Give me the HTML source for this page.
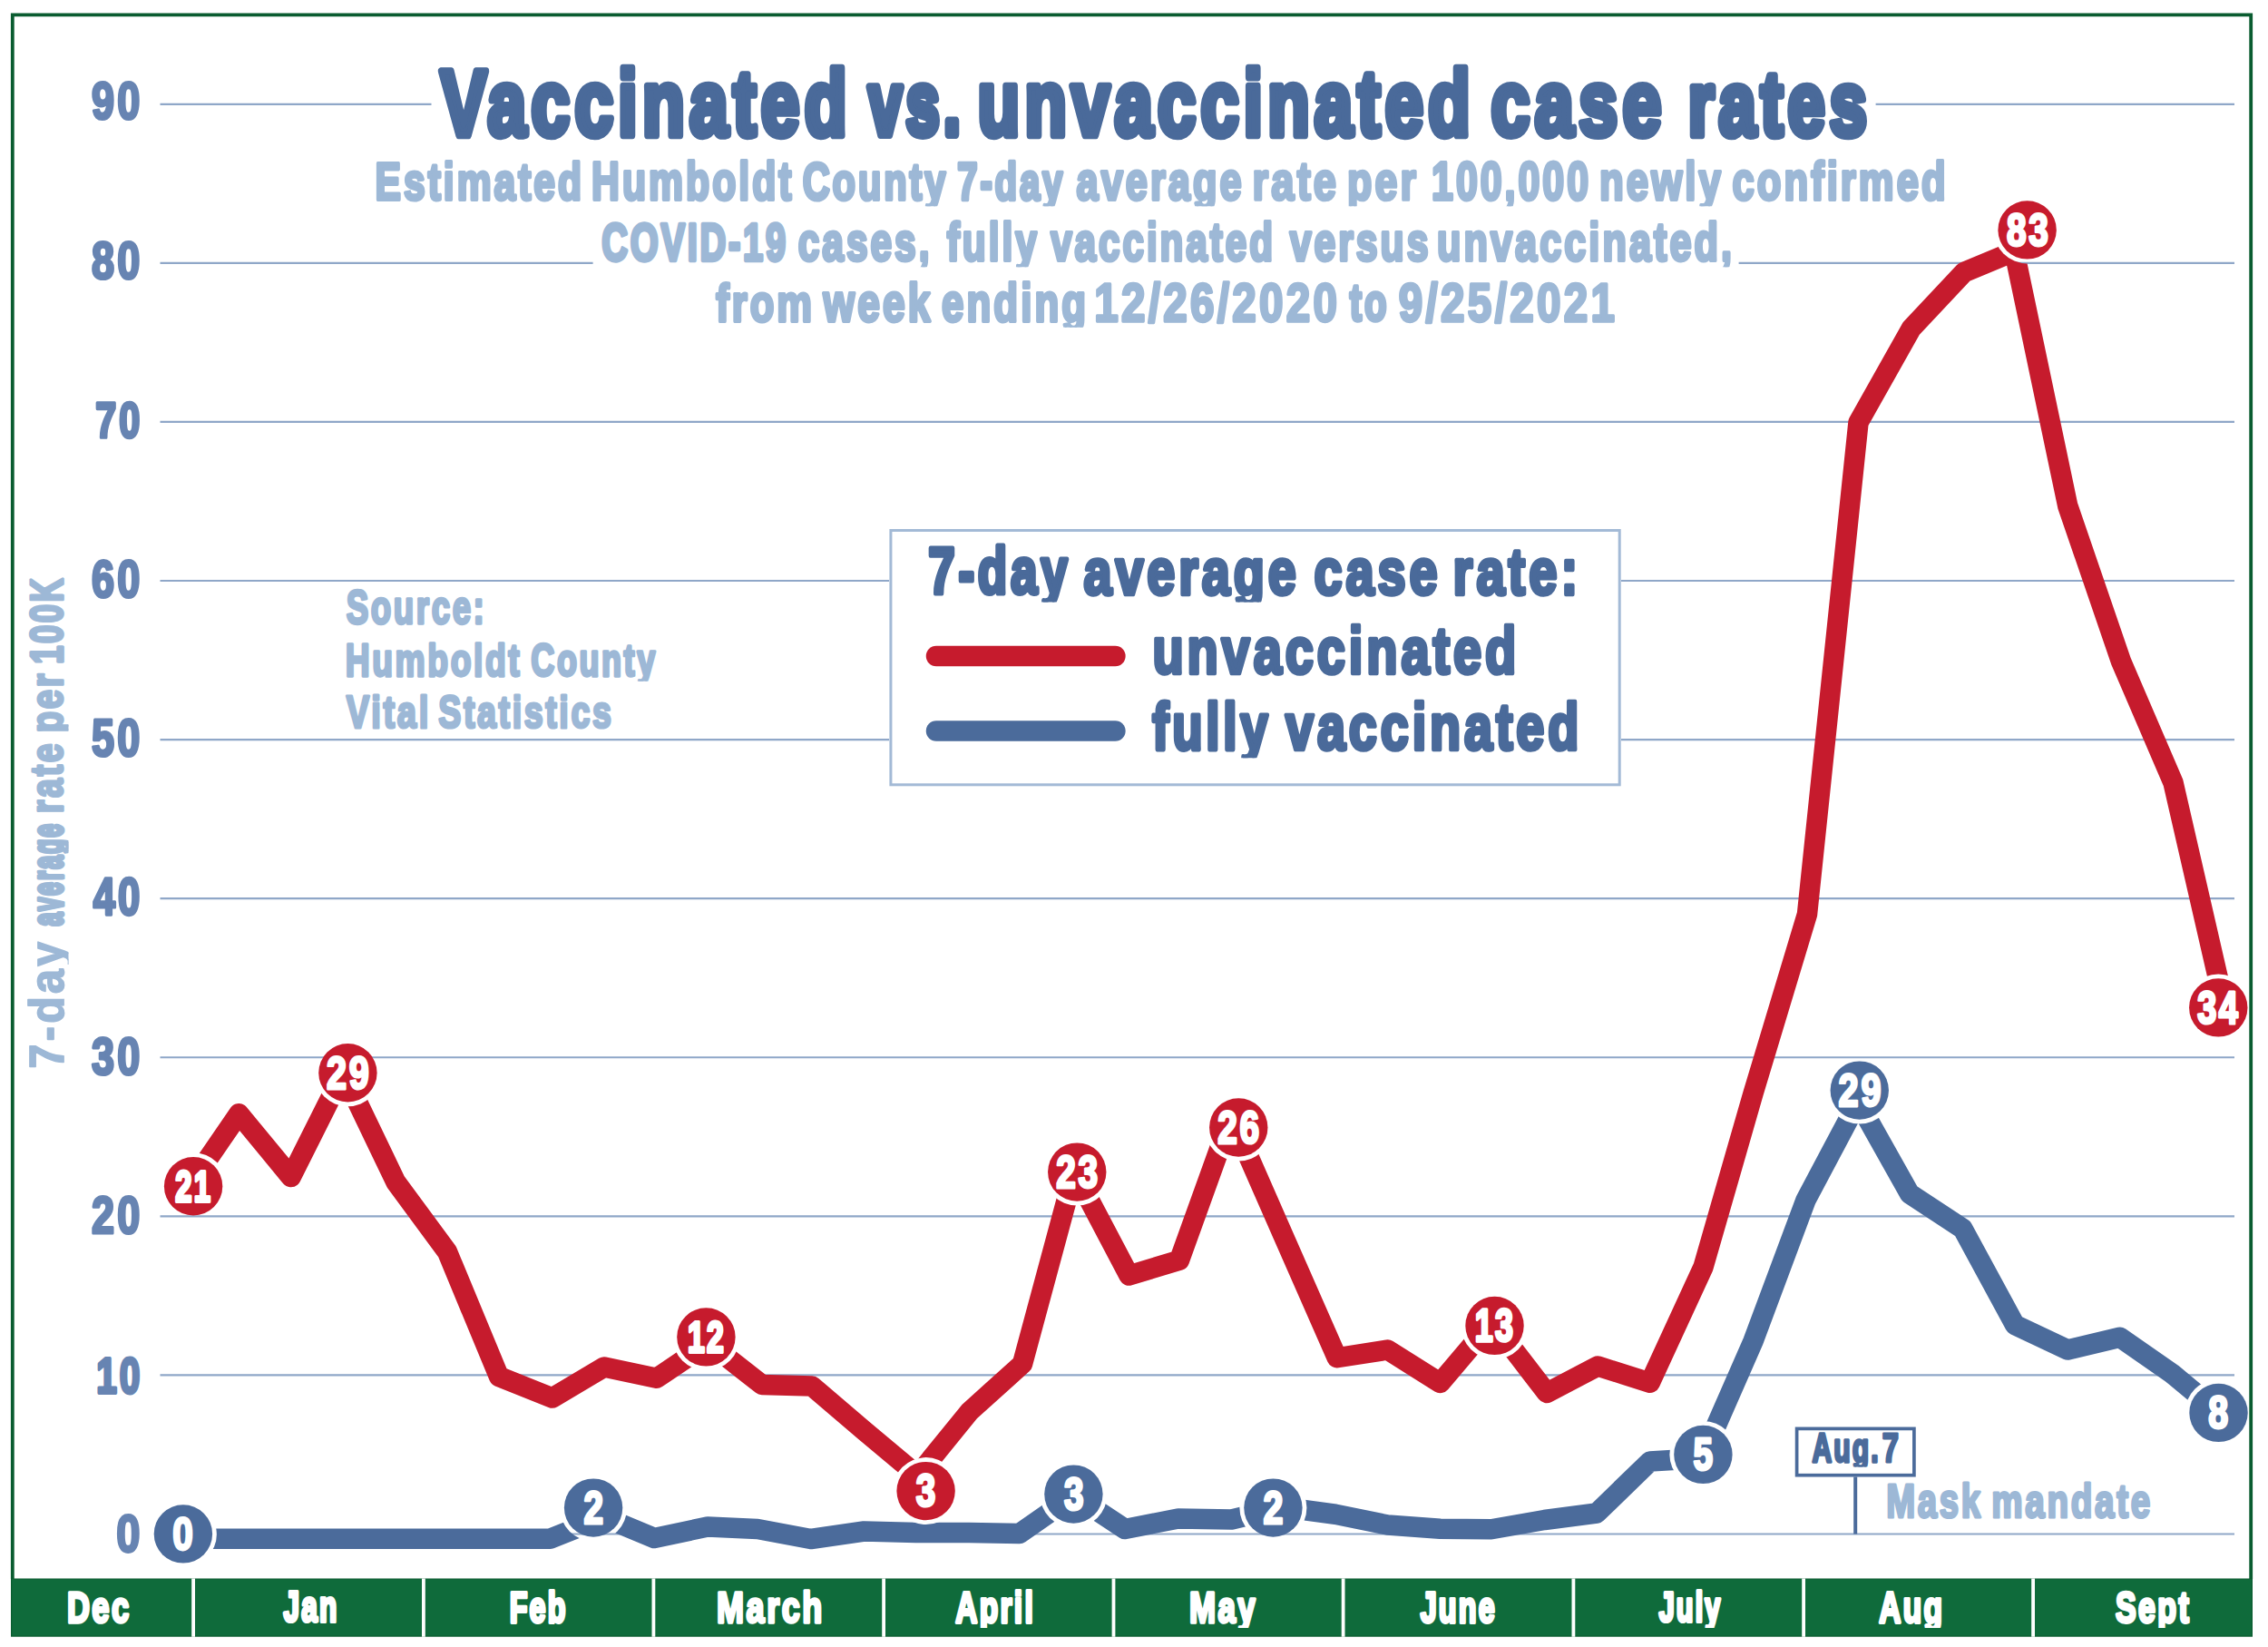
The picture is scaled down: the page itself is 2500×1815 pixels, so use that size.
<!DOCTYPE html>
<html><head><meta charset="utf-8"><title>Vaccinated vs. unvaccinated case rates</title><style>
html,body{margin:0;padding:0;background:#fff;overflow:hidden}
svg{display:block}
text{font-family:"Liberation Sans",sans-serif;font-weight:bold}
</style></head><body>
<svg width="2500" height="1815" viewBox="0 0 2500 1815">
<rect x="0" y="0" width="2500" height="1815" fill="#fff"/>
<path d="M176.5 1690.5H2463 M176.5 1515.42H2463 M176.5 1340.34H2463 M176.5 1165.26H2463 M176.5 990.18H2463 M176.5 815.0999999999999H980 M1787 815.0999999999999H2463 M176.5 640.02H980 M1787 640.02H2463 M176.5 464.9399999999998H2463 M176.5 289.8599999999999H653.6 M1916.6 289.8599999999999H2463 M176.5 114.77999999999997H475.5 M2067.6 114.77999999999997H2463" stroke="#8fa7c8" stroke-width="2.2" fill="none"/>
<text x="128.15" y="1710.45" font-size="57.15" fill="#6784b2" stroke="#6784b2" stroke-width="2.91" stroke-linejoin="round" textLength="29.48" lengthAdjust="spacingAndGlyphs" letter-spacing="4.00">0</text>
<text x="106.33" y="1534.54" font-size="55.84" fill="#6784b2" stroke="#6784b2" stroke-width="3.82" stroke-linejoin="round" textLength="50.78" lengthAdjust="spacingAndGlyphs" letter-spacing="3.91">10</text>
<text x="101.03" y="1359.40" font-size="56.74" fill="#6784b2" stroke="#6784b2" stroke-width="3.19" stroke-linejoin="round" textLength="56.40" lengthAdjust="spacingAndGlyphs" letter-spacing="3.97">20</text>
<text x="101.03" y="1183.96" font-size="56.74" fill="#6784b2" stroke="#6784b2" stroke-width="3.19" stroke-linejoin="round" textLength="56.40" lengthAdjust="spacingAndGlyphs" letter-spacing="3.97">30</text>
<text x="102.66" y="1008.40" font-size="56.46" fill="#6784b2" stroke="#6784b2" stroke-width="3.39" stroke-linejoin="round" textLength="54.66" lengthAdjust="spacingAndGlyphs" letter-spacing="3.95">40</text>
<text x="101.03" y="833.05" font-size="56.74" fill="#6784b2" stroke="#6784b2" stroke-width="3.19" stroke-linejoin="round" textLength="56.40" lengthAdjust="spacingAndGlyphs" letter-spacing="3.97">50</text>
<text x="101.03" y="657.61" font-size="56.74" fill="#6784b2" stroke="#6784b2" stroke-width="3.19" stroke-linejoin="round" textLength="56.40" lengthAdjust="spacingAndGlyphs" letter-spacing="3.97">60</text>
<text x="105.29" y="481.90" font-size="56.01" fill="#6784b2" stroke="#6784b2" stroke-width="3.7" stroke-linejoin="round" textLength="51.86" lengthAdjust="spacingAndGlyphs" letter-spacing="3.92">70</text>
<text x="101.03" y="306.71" font-size="56.74" fill="#6784b2" stroke="#6784b2" stroke-width="3.19" stroke-linejoin="round" textLength="56.40" lengthAdjust="spacingAndGlyphs" letter-spacing="3.97">80</text>
<text x="101.03" y="131.26" font-size="56.74" fill="#6784b2" stroke="#6784b2" stroke-width="3.19" stroke-linejoin="round" textLength="56.40" lengthAdjust="spacingAndGlyphs" letter-spacing="3.97">90</text>
<text x="485.45" y="148.91" font-size="101.23" fill="#4a6a9a" stroke="#4a6a9a" stroke-width="8.39" stroke-linejoin="round" textLength="453.43" lengthAdjust="spacingAndGlyphs" letter-spacing="7.09">Vaccinated</text>
<text x="957.47" y="148.22" font-size="98.89" fill="#4a6a9a" stroke="#4a6a9a" stroke-width="9.75" stroke-linejoin="round" textLength="105.74" lengthAdjust="spacingAndGlyphs" letter-spacing="6.92">vs.</text>
<text x="1077.84" y="148.91" font-size="101.22" fill="#4a6a9a" stroke="#4a6a9a" stroke-width="8.39" stroke-linejoin="round" textLength="548.04" lengthAdjust="spacingAndGlyphs" letter-spacing="7.09">unvaccinated</text>
<text x="1643.49" y="149.00" font-size="101.57" fill="#4a6a9a" stroke="#4a6a9a" stroke-width="8.19" stroke-linejoin="round" textLength="193.39" lengthAdjust="spacingAndGlyphs" letter-spacing="7.11">case</text>
<text x="1860.63" y="148.77" font-size="100.76" fill="#4a6a9a" stroke="#4a6a9a" stroke-width="8.66" stroke-linejoin="round" textLength="202.47" lengthAdjust="spacingAndGlyphs" letter-spacing="7.05">rates</text>
<text x="413.57" y="219.98" font-size="58.26" fill="#9db8d6" stroke="#9db8d6" stroke-width="4.04" stroke-linejoin="round" textLength="230.47" lengthAdjust="spacingAndGlyphs" letter-spacing="4.08">Estimated</text>
<text x="652.05" y="220.00" font-size="58.30" fill="#9db8d6" stroke="#9db8d6" stroke-width="4.01" stroke-linejoin="round" textLength="223.43" lengthAdjust="spacingAndGlyphs" letter-spacing="4.08">Humboldt</text>
<clipPath id="c17"><rect x="-5000" y="-5000" width="10000" height="5227.23"/></clipPath>
<text x="884.70" y="219.91" font-size="58.02" fill="#9db8d6" stroke="#9db8d6" stroke-width="4.18" stroke-linejoin="round" textLength="160.64" lengthAdjust="spacingAndGlyphs" letter-spacing="4.06" clip-path="url(#c17)">County</text>
<clipPath id="c18"><rect x="-5000" y="-5000" width="10000" height="5227.23"/></clipPath>
<text x="1055.30" y="219.81" font-size="57.67" fill="#9db8d6" stroke="#9db8d6" stroke-width="4.38" stroke-linejoin="round" textLength="118.96" lengthAdjust="spacingAndGlyphs" letter-spacing="4.04" clip-path="url(#c18)">7-day</text>
<clipPath id="c19"><rect x="-5000" y="-5000" width="10000" height="5227.23"/></clipPath>
<text x="1186.58" y="220.03" font-size="58.43" fill="#9db8d6" stroke="#9db8d6" stroke-width="3.94" stroke-linejoin="round" textLength="184.93" lengthAdjust="spacingAndGlyphs" letter-spacing="4.09" clip-path="url(#c19)">average</text>
<text x="1380.53" y="220.17" font-size="58.90" fill="#9db8d6" stroke="#9db8d6" stroke-width="3.66" stroke-linejoin="round" textLength="95.68" lengthAdjust="spacingAndGlyphs" letter-spacing="4.12">rate</text>
<clipPath id="c21"><rect x="-5000" y="-5000" width="10000" height="5227.23"/></clipPath>
<text x="1485.03" y="220.13" font-size="58.77" fill="#9db8d6" stroke="#9db8d6" stroke-width="3.74" stroke-linejoin="round" textLength="78.97" lengthAdjust="spacingAndGlyphs" letter-spacing="4.11" clip-path="url(#c21)">per</text>
<clipPath id="c22"><rect x="-5000" y="-5000" width="10000" height="5227.23"/></clipPath>
<text x="1578.10" y="220.00" font-size="58.32" fill="#9db8d6" stroke="#9db8d6" stroke-width="4.0" stroke-linejoin="round" textLength="175.90" lengthAdjust="spacingAndGlyphs" letter-spacing="4.08" clip-path="url(#c22)">100,000</text>
<clipPath id="c23"><rect x="-5000" y="-5000" width="10000" height="5227.23"/></clipPath>
<text x="1763.00" y="220.06" font-size="58.55" fill="#9db8d6" stroke="#9db8d6" stroke-width="3.87" stroke-linejoin="round" textLength="136.99" lengthAdjust="spacingAndGlyphs" letter-spacing="4.10" clip-path="url(#c23)">newly</text>
<text x="1909.55" y="220.05" font-size="58.50" fill="#9db8d6" stroke="#9db8d6" stroke-width="3.9" stroke-linejoin="round" textLength="238.05" lengthAdjust="spacingAndGlyphs" letter-spacing="4.09">confirmed</text>
<text x="663.31" y="286.78" font-size="57.74" fill="#9db8d6" stroke="#9db8d6" stroke-width="4.44" stroke-linejoin="round" textLength="205.46" lengthAdjust="spacingAndGlyphs" letter-spacing="4.04">COVID-19</text>
<clipPath id="c26"><rect x="-5000" y="-5000" width="10000" height="5294.28"/></clipPath>
<text x="879.67" y="286.98" font-size="58.41" fill="#9db8d6" stroke="#9db8d6" stroke-width="4.05" stroke-linejoin="round" textLength="147.87" lengthAdjust="spacingAndGlyphs" letter-spacing="4.09" clip-path="url(#c26)">cases,</text>
<clipPath id="c27"><rect x="-5000" y="-5000" width="10000" height="5294.28"/></clipPath>
<text x="1043.73" y="286.98" font-size="58.41" fill="#9db8d6" stroke="#9db8d6" stroke-width="4.05" stroke-linejoin="round" textLength="102.18" lengthAdjust="spacingAndGlyphs" letter-spacing="4.09" clip-path="url(#c27)">fully</text>
<text x="1158.16" y="286.95" font-size="58.35" fill="#9db8d6" stroke="#9db8d6" stroke-width="4.09" stroke-linejoin="round" textLength="247.82" lengthAdjust="spacingAndGlyphs" letter-spacing="4.08">vaccinated</text>
<text x="1421.69" y="286.99" font-size="58.47" fill="#9db8d6" stroke="#9db8d6" stroke-width="4.02" stroke-linejoin="round" textLength="155.79" lengthAdjust="spacingAndGlyphs" letter-spacing="4.09">versus</text>
<clipPath id="c30"><rect x="-5000" y="-5000" width="10000" height="5294.28"/></clipPath>
<text x="1584.03" y="287.03" font-size="58.60" fill="#9db8d6" stroke="#9db8d6" stroke-width="3.94" stroke-linejoin="round" textLength="328.04" lengthAdjust="spacingAndGlyphs" letter-spacing="4.10" clip-path="url(#c30)">unvaccinated,</text>
<text x="789.19" y="353.55" font-size="58.27" fill="#9db8d6" stroke="#9db8d6" stroke-width="3.9" stroke-linejoin="round" textLength="108.94" lengthAdjust="spacingAndGlyphs" letter-spacing="4.08">from</text>
<text x="907.57" y="353.61" font-size="58.47" fill="#9db8d6" stroke="#9db8d6" stroke-width="3.79" stroke-linejoin="round" textLength="120.97" lengthAdjust="spacingAndGlyphs" letter-spacing="4.09">week</text>
<clipPath id="c33"><rect x="-5000" y="-5000" width="10000" height="5360.67"/></clipPath>
<text x="1038.07" y="353.57" font-size="58.34" fill="#9db8d6" stroke="#9db8d6" stroke-width="3.86" stroke-linejoin="round" textLength="162.04" lengthAdjust="spacingAndGlyphs" letter-spacing="4.08" clip-path="url(#c33)">ending</text>
<text x="1206.24" y="353.82" font-size="59.23" fill="#9db8d6" stroke="#9db8d6" stroke-width="3.35" stroke-linejoin="round" textLength="271.10" lengthAdjust="spacingAndGlyphs" letter-spacing="4.15">12/26/2020</text>
<text x="1487.79" y="353.31" font-size="57.45" fill="#9db8d6" stroke="#9db8d6" stroke-width="4.38" stroke-linejoin="round" textLength="43.48" lengthAdjust="spacingAndGlyphs" letter-spacing="4.02">to</text>
<text x="1541.76" y="353.83" font-size="59.24" fill="#9db8d6" stroke="#9db8d6" stroke-width="3.34" stroke-linejoin="round" textLength="241.57" lengthAdjust="spacingAndGlyphs" letter-spacing="4.15">9/25/2021</text>
<rect x="981.9" y="584.5" width="803.3" height="280.3" fill="#fff" stroke="#a3bad6" stroke-width="3"/>
<clipPath id="c37"><rect x="-5000" y="-5000" width="10000" height="5663.53"/></clipPath>
<text x="1023.25" y="654.47" font-size="72.09" fill="#4a6a9a" stroke="#4a6a9a" stroke-width="5.07" stroke-linejoin="round" textLength="157.12" lengthAdjust="spacingAndGlyphs" letter-spacing="5.05" clip-path="url(#c37)">7-day</text>
<clipPath id="c38"><rect x="-5000" y="-5000" width="10000" height="5663.53"/></clipPath>
<text x="1194.48" y="654.65" font-size="72.75" fill="#4a6a9a" stroke="#4a6a9a" stroke-width="4.69" stroke-linejoin="round" textLength="238.16" lengthAdjust="spacingAndGlyphs" letter-spacing="5.09" clip-path="url(#c38)">average</text>
<text x="1448.57" y="654.66" font-size="72.79" fill="#4a6a9a" stroke="#4a6a9a" stroke-width="4.67" stroke-linejoin="round" textLength="140.06" lengthAdjust="spacingAndGlyphs" letter-spacing="5.10">case</text>
<text x="1601.59" y="654.68" font-size="72.85" fill="#4a6a9a" stroke="#4a6a9a" stroke-width="4.63" stroke-linejoin="round" textLength="141.48" lengthAdjust="spacingAndGlyphs" letter-spacing="5.10">rate:</text>
<line x1="1032" y1="723" x2="1229.4" y2="723" stroke="#c61b2d" stroke-width="22.5" stroke-linecap="round"/>
<line x1="1032" y1="805.5" x2="1229.4" y2="805.5" stroke="#4b6b9b" stroke-width="22.5" stroke-linecap="round"/>
<text x="1270.38" y="742.27" font-size="72.97" fill="#4a6a9a" stroke="#4a6a9a" stroke-width="4.66" stroke-linejoin="round" textLength="404.85" lengthAdjust="spacingAndGlyphs" letter-spacing="5.11">unvaccinated</text>
<clipPath id="c42"><rect x="-5000" y="-5000" width="10000" height="5835.13"/></clipPath>
<text x="1270.20" y="826.17" font-size="72.08" fill="#4a6a9a" stroke="#4a6a9a" stroke-width="4.86" stroke-linejoin="round" textLength="131.27" lengthAdjust="spacingAndGlyphs" letter-spacing="5.05" clip-path="url(#c42)">fully</text>
<text x="1417.01" y="826.25" font-size="72.36" fill="#4a6a9a" stroke="#4a6a9a" stroke-width="4.7" stroke-linejoin="round" textLength="327.21" lengthAdjust="spacingAndGlyphs" letter-spacing="5.07">vaccinated</text>
<text x="381.80" y="687.42" font-size="51.14" fill="#9db8d6" stroke="#9db8d6" stroke-width="3.36" stroke-linejoin="round" textLength="154.61" lengthAdjust="spacingAndGlyphs" letter-spacing="3.58">Source:</text>
<text x="380.69" y="744.75" font-size="50.26" fill="#9db8d6" stroke="#9db8d6" stroke-width="3.29" stroke-linejoin="round" textLength="194.65" lengthAdjust="spacingAndGlyphs" letter-spacing="3.52">Humboldt</text>
<clipPath id="c46"><rect x="-5000" y="-5000" width="10000" height="5750.84"/></clipPath>
<text x="585.31" y="744.67" font-size="49.98" fill="#9db8d6" stroke="#9db8d6" stroke-width="3.45" stroke-linejoin="round" textLength="139.44" lengthAdjust="spacingAndGlyphs" letter-spacing="3.50" clip-path="url(#c46)">County</text>
<text x="381.87" y="802.10" font-size="50.40" fill="#9db8d6" stroke="#9db8d6" stroke-width="3.21" stroke-linejoin="round" textLength="93.10" lengthAdjust="spacingAndGlyphs" letter-spacing="3.53">Vital</text>
<text x="483.22" y="802.08" font-size="50.33" fill="#9db8d6" stroke="#9db8d6" stroke-width="3.24" stroke-linejoin="round" textLength="193.17" lengthAdjust="spacingAndGlyphs" letter-spacing="3.52">Statistics</text>
<g transform="translate(71,1176.5) rotate(-90)">
<clipPath id="c49"><rect x="-5000" y="-5000" width="10000" height="5004.48"/></clipPath>
<text x="-1.05" y="-0.86" font-size="53.06" fill="#9db8d6" stroke="#9db8d6" stroke-width="1.73" stroke-linejoin="round" textLength="143.17" lengthAdjust="spacingAndGlyphs" letter-spacing="3.71" clip-path="url(#c49)">7-day</text>
<clipPath id="c50"><rect x="-5000" y="-5000" width="10000" height="5004.48"/></clipPath>
<text x="156.02" y="-2.37" font-size="47.89" fill="#9db8d6" stroke="#9db8d6" stroke-width="4.74" stroke-linejoin="round" textLength="114.62" lengthAdjust="spacingAndGlyphs" letter-spacing="3.35" clip-path="url(#c50)">average</text>
<text x="280.22" y="-1.61" font-size="50.50" fill="#9db8d6" stroke="#9db8d6" stroke-width="3.22" stroke-linejoin="round" textLength="79.70" lengthAdjust="spacingAndGlyphs" letter-spacing="3.53">rate</text>
<clipPath id="c52"><rect x="-5000" y="-5000" width="10000" height="5004.48"/></clipPath>
<text x="369.21" y="-1.57" font-size="50.64" fill="#9db8d6" stroke="#9db8d6" stroke-width="3.14" stroke-linejoin="round" textLength="67.65" lengthAdjust="spacingAndGlyphs" letter-spacing="3.55" clip-path="url(#c52)">per</text>
<text x="444.86" y="-1.71" font-size="50.16" fill="#9db8d6" stroke="#9db8d6" stroke-width="3.42" stroke-linejoin="round" textLength="96.86" lengthAdjust="spacingAndGlyphs" letter-spacing="3.51">100K</text>
</g>
<defs><mask id="knock" maskUnits="userSpaceOnUse" x="0" y="0" width="2500" height="1815"><rect width="2500" height="1815" fill="#fff"/><circle cx="213.1" cy="1307.2" r="37.0" fill="#000"/><circle cx="383.4" cy="1182.2" r="37.0" fill="#000"/><circle cx="778.4" cy="1473.4" r="37.0" fill="#000"/><circle cx="1020.6" cy="1643.1" r="37.0" fill="#000"/><circle cx="1187.25" cy="1291.6" r="37.0" fill="#000"/><circle cx="1365.25" cy="1242.5" r="37.0" fill="#000"/><circle cx="1647.5" cy="1460.9" r="37.0" fill="#000"/><circle cx="2234.6" cy="253.4" r="37.0" fill="#000"/><circle cx="2445.25" cy="1110.4" r="37.0" fill="#000"/><circle cx="201.9" cy="1690.4" r="37.0" fill="#000"/><circle cx="654.1" cy="1661.6" r="37.0" fill="#000"/><circle cx="1183.4" cy="1646.6" r="37.0" fill="#000"/><circle cx="1403.4" cy="1661.6" r="37.0" fill="#000"/><circle cx="1877.4" cy="1602.9" r="37.0" fill="#000"/><circle cx="2049.75" cy="1201.6" r="37.0" fill="#000"/><circle cx="2445.5" cy="1556.9" r="37.0" fill="#000"/></mask></defs>
<circle cx="201.9" cy="1690.4" r="37.0" fill="#fff"/>
<g mask="url(#knock)">
<polyline points="202,1695.75 606.25,1695.75 666,1672 721.25,1695 780,1682.5 835,1685 893.75,1696 952.5,1687.5 1010,1689 1068,1689 1123.75,1690 1184,1648 1240,1685 1298.75,1673.5 1357.5,1674.5 1414.5,1661 1472,1668.75 1529.5,1680.5 1587.5,1684.75 1643.75,1685.25 1702.5,1675 1760,1667.5 1818.75,1610.5 1876,1607 1932.5,1478 1990.5,1322.5 2048,1214 2105,1315.5 2163.5,1354 2221,1460 2279.25,1487.5 2336.75,1473.75 2394.25,1513.75 2450,1560" fill="none" stroke="#4b6b9b" stroke-width="22.5" stroke-linejoin="round"/>
<polyline points="208,1308 263.3,1227.3 320.75,1297 378.4,1182 436.25,1302.5 493,1379.5 550,1517 608.75,1540.5 666,1506.5 723.75,1518.75 781.3,1480 840,1526 895,1527.5 953,1577 1011.5,1626 1068.75,1555.5 1127,1503 1184.2,1291 1244.5,1405.5 1300,1388.75 1357,1230.5 1414.5,1361.4 1473.75,1496.25 1529.5,1487.5 1587.5,1524 1644.7,1456.5 1705,1535 1761.25,1505.5 1818.75,1523.75 1877.5,1396.25 1932.5,1205 1992,1007.5 2048.5,465.5 2106.75,362 2165,300 2220.3,277 2279.25,557.5 2338,728.75 2395.5,862.5 2450,1100" fill="none" stroke="#c61b2d" stroke-width="22.5" stroke-linejoin="round"/>
</g>
<circle cx="213.1" cy="1307.2" r="32.2" fill="#c61b2d"/>
<text x="193.15" y="1324.15" font-size="48.56" fill="#fff" stroke="#fff" stroke-width="3.91" stroke-linejoin="round" textLength="41.08" lengthAdjust="spacingAndGlyphs" letter-spacing="3.40">21</text>
<circle cx="383.4" cy="1182.2" r="32.2" fill="#c61b2d"/>
<text x="359.91" y="1199.63" font-size="49.93" fill="#fff" stroke="#fff" stroke-width="2.95" stroke-linejoin="round" textLength="49.65" lengthAdjust="spacingAndGlyphs" letter-spacing="3.50">29</text>
<circle cx="778.4" cy="1473.4" r="32.2" fill="#c61b2d"/>
<text x="757.96" y="1490.41" font-size="48.75" fill="#fff" stroke="#fff" stroke-width="3.78" stroke-linejoin="round" textLength="42.26" lengthAdjust="spacingAndGlyphs" letter-spacing="3.41">12</text>
<circle cx="1020.6" cy="1643.1" r="32.2" fill="#c61b2d"/>
<text x="1009.72" y="1660.46" font-size="49.74" fill="#fff" stroke="#fff" stroke-width="3.08" stroke-linejoin="round" textLength="24.22" lengthAdjust="spacingAndGlyphs" letter-spacing="3.48">3</text>
<circle cx="1187.25" cy="1291.6" r="32.2" fill="#c61b2d"/>
<text x="1164.15" y="1308.96" font-size="49.76" fill="#fff" stroke="#fff" stroke-width="3.07" stroke-linejoin="round" textLength="48.57" lengthAdjust="spacingAndGlyphs" letter-spacing="3.48">23</text>
<circle cx="1365.25" cy="1242.5" r="32.2" fill="#c61b2d"/>
<text x="1342.15" y="1259.87" font-size="49.76" fill="#fff" stroke="#fff" stroke-width="3.07" stroke-linejoin="round" textLength="48.57" lengthAdjust="spacingAndGlyphs" letter-spacing="3.48">26</text>
<circle cx="1647.5" cy="1460.9" r="32.2" fill="#c61b2d"/>
<text x="1625.68" y="1478.06" font-size="49.15" fill="#fff" stroke="#fff" stroke-width="3.49" stroke-linejoin="round" textLength="44.80" lengthAdjust="spacingAndGlyphs" letter-spacing="3.44">13</text>
<circle cx="2234.6" cy="253.4" r="32.2" fill="#c61b2d"/>
<text x="2211.94" y="270.76" font-size="49.76" fill="#fff" stroke="#fff" stroke-width="3.07" stroke-linejoin="round" textLength="48.57" lengthAdjust="spacingAndGlyphs" letter-spacing="3.48">83</text>
<circle cx="2445.25" cy="1110.4" r="32.2" fill="#c61b2d"/>
<text x="2422.16" y="1127.70" font-size="49.56" fill="#fff" stroke="#fff" stroke-width="3.2" stroke-linejoin="round" textLength="47.37" lengthAdjust="spacingAndGlyphs" letter-spacing="3.47">34</text>
<circle cx="201.9" cy="1690.4" r="32.2" fill="#4b6b9b"/>
<text x="190.28" y="1707.89" font-size="50.10" fill="#fff" stroke="#fff" stroke-width="2.83" stroke-linejoin="round" textLength="25.37" lengthAdjust="spacingAndGlyphs" letter-spacing="3.51">0</text>
<circle cx="654.1" cy="1661.6" r="32.2" fill="#4b6b9b"/>
<text x="643.39" y="1678.96" font-size="49.74" fill="#fff" stroke="#fff" stroke-width="3.08" stroke-linejoin="round" textLength="24.22" lengthAdjust="spacingAndGlyphs" letter-spacing="3.48">2</text>
<circle cx="1183.4" cy="1646.6" r="32.2" fill="#4b6b9b"/>
<text x="1172.96" y="1663.96" font-size="49.74" fill="#fff" stroke="#fff" stroke-width="3.08" stroke-linejoin="round" textLength="24.22" lengthAdjust="spacingAndGlyphs" letter-spacing="3.48">3</text>
<circle cx="1403.4" cy="1661.6" r="32.2" fill="#4b6b9b"/>
<text x="1392.62" y="1679.00" font-size="49.85" fill="#fff" stroke="#fff" stroke-width="3.0" stroke-linejoin="round" textLength="24.59" lengthAdjust="spacingAndGlyphs" letter-spacing="3.49">2</text>
<circle cx="1877.4" cy="1602.9" r="32.2" fill="#4b6b9b"/>
<text x="1866.61" y="1620.26" font-size="49.73" fill="#fff" stroke="#fff" stroke-width="3.09" stroke-linejoin="round" textLength="24.21" lengthAdjust="spacingAndGlyphs" letter-spacing="3.48">5</text>
<circle cx="2049.75" cy="1201.6" r="32.2" fill="#4b6b9b"/>
<text x="2026.59" y="1219.03" font-size="49.93" fill="#fff" stroke="#fff" stroke-width="2.95" stroke-linejoin="round" textLength="49.63" lengthAdjust="spacingAndGlyphs" letter-spacing="3.49">29</text>
<circle cx="2445.5" cy="1556.9" r="32.2" fill="#4b6b9b"/>
<text x="2434.17" y="1574.30" font-size="49.85" fill="#fff" stroke="#fff" stroke-width="3.0" stroke-linejoin="round" textLength="24.59" lengthAdjust="spacingAndGlyphs" letter-spacing="3.49">8</text>
<rect x="1980.6" y="1574.4" width="129.3" height="51.3" fill="#fff" stroke="#4b6b9b" stroke-width="3.7"/>
<line x1="2045.2" y1="1627.5" x2="2045.2" y2="1690.5" stroke="#4b6b9b" stroke-width="4"/>
<clipPath id="c70"><rect x="-5000" y="-5000" width="10000" height="6616.46"/></clipPath>
<text x="1997.38" y="1610.86" font-size="43.91" fill="#4b6b9b" stroke="#4b6b9b" stroke-width="3.29" stroke-linejoin="round" textLength="75.30" lengthAdjust="spacingAndGlyphs" letter-spacing="3.07" clip-path="url(#c70)">Aug.</text>
<text x="2074.70" y="1611.04" font-size="44.56" fill="#4b6b9b" stroke="#4b6b9b" stroke-width="2.92" stroke-linejoin="round" textLength="20.49" lengthAdjust="spacingAndGlyphs" letter-spacing="3.12">7</text>
<text x="2079.16" y="1671.93" font-size="50.94" fill="#9db8d6" stroke="#9db8d6" stroke-width="3.14" stroke-linejoin="round" textLength="106.43" lengthAdjust="spacingAndGlyphs" letter-spacing="3.57">Mask</text>
<text x="2195.35" y="1671.95" font-size="51.02" fill="#9db8d6" stroke="#9db8d6" stroke-width="3.1" stroke-linejoin="round" textLength="177.63" lengthAdjust="spacingAndGlyphs" letter-spacing="3.57">mandate</text>
<path d="M13.8 1740V16.3H2481.2V1740" fill="none" stroke="#0a5c30" stroke-width="3.8"/>
<rect x="12.6" y="1740.1" width="2469.8" height="63" fill="#0f6b3b" stroke="#0a5c30" stroke-width="1.2"/>
<path d="M213.1 1739.5V1803.7 M466.9 1739.5V1803.7 M720.4 1739.5V1803.7 M974.1 1739.5V1803.7 M1227.5 1739.5V1803.7 M1480.6 1739.5V1803.7 M1734.4 1739.5V1803.7 M1988.1 1739.5V1803.7 M2241.1 1739.5V1803.7" stroke="#fff" stroke-width="3.8"/>
<text x="73.95" y="1787.67" font-size="48.71" fill="#fff" stroke="#fff" stroke-width="3.66" stroke-linejoin="round" textLength="70.68" lengthAdjust="spacingAndGlyphs" letter-spacing="3.41">Dec</text>
<text x="312.44" y="1787.46" font-size="47.98" fill="#fff" stroke="#fff" stroke-width="4.08" stroke-linejoin="round" textLength="61.06" lengthAdjust="spacingAndGlyphs" letter-spacing="3.36">Jan</text>
<text x="561.70" y="1787.51" font-size="47.54" fill="#fff" stroke="#fff" stroke-width="3.99" stroke-linejoin="round" textLength="64.00" lengthAdjust="spacingAndGlyphs" letter-spacing="3.33">Feb</text>
<text x="790.08" y="1787.77" font-size="48.46" fill="#fff" stroke="#fff" stroke-width="3.46" stroke-linejoin="round" textLength="118.71" lengthAdjust="spacingAndGlyphs" letter-spacing="3.39">March</text>
<clipPath id="c78"><rect x="-5000" y="-5000" width="10000" height="6793.88"/></clipPath>
<text x="1053.18" y="1787.60" font-size="47.85" fill="#fff" stroke="#fff" stroke-width="3.81" stroke-linejoin="round" textLength="87.97" lengthAdjust="spacingAndGlyphs" letter-spacing="3.35" clip-path="url(#c78)">April</text>
<clipPath id="c79"><rect x="-5000" y="-5000" width="10000" height="6793.88"/></clipPath>
<text x="1310.92" y="1787.69" font-size="48.78" fill="#fff" stroke="#fff" stroke-width="3.62" stroke-linejoin="round" textLength="75.16" lengthAdjust="spacingAndGlyphs" letter-spacing="3.41" clip-path="url(#c79)">May</text>
<text x="1565.65" y="1787.51" font-size="48.14" fill="#fff" stroke="#fff" stroke-width="3.98" stroke-linejoin="round" textLength="84.34" lengthAdjust="spacingAndGlyphs" letter-spacing="3.37">June</text>
<clipPath id="c81"><rect x="-5000" y="-5000" width="10000" height="6793.88"/></clipPath>
<text x="1828.77" y="1787.38" font-size="47.14" fill="#fff" stroke="#fff" stroke-width="4.23" stroke-linejoin="round" textLength="69.59" lengthAdjust="spacingAndGlyphs" letter-spacing="3.30" clip-path="url(#c81)">July</text>
<clipPath id="c82"><rect x="-5000" y="-5000" width="10000" height="6793.88"/></clipPath>
<text x="2071.16" y="1787.59" font-size="48.43" fill="#fff" stroke="#fff" stroke-width="3.82" stroke-linejoin="round" textLength="72.02" lengthAdjust="spacingAndGlyphs" letter-spacing="3.39" clip-path="url(#c82)">Aug</text>
<clipPath id="c83"><rect x="-5000" y="-5000" width="10000" height="6793.88"/></clipPath>
<text x="2332.02" y="1787.62" font-size="48.55" fill="#fff" stroke="#fff" stroke-width="3.75" stroke-linejoin="round" textLength="83.05" lengthAdjust="spacingAndGlyphs" letter-spacing="3.40" clip-path="url(#c83)">Sept</text>
</svg>
</body></html>
